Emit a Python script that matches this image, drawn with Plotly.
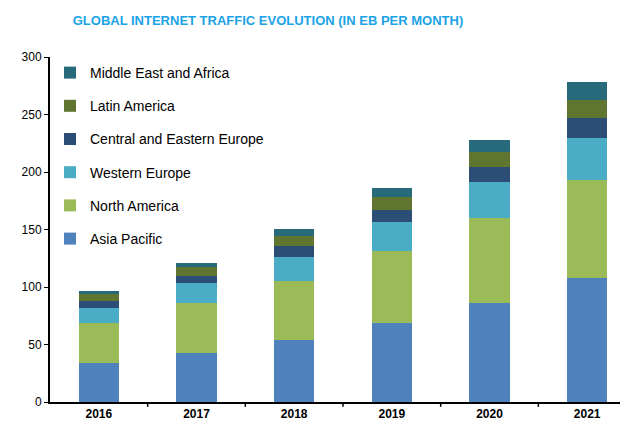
import plotly.graph_objects as go

# dados (EB por mês)
anos = ["2016", "2017", "2018", "2019", "2020", "2021"]
asia_pacific = [34.0, 42.7, 53.8, 68.9, 86.3, 107.6]
north_america = [34.3, 43.1, 51.7, 62.7, 73.6, 85.7]
western_europe = [13.1, 17.9, 20.9, 25.1, 31.4, 36.3]
central_eastern_europe = [6.6, 5.9, 9.3, 10.4, 13.1, 17.7]
latin_america = [5.6, 8.1, 8.8, 11.6, 13.3, 15.7]
middle_east_africa = [3.2, 3.5, 6.1, 7.0, 9.9, 15.0]

series = [
    ("Asia Pacific", asia_pacific, "#4F81BD"),
    ("North America", north_america, "#9BBB59"),
    ("Western Europe", western_europe, "#4BACC6"),
    ("Central and Eastern Europe", central_eastern_europe, "#2C4D75"),
    ("Latin America", latin_america, "#5F7530"),
    ("Middle East and Africa", middle_east_africa, "#276A7C"),
]

fig = go.Figure()
for i, (nome, valores, cor) in enumerate(series):
    fig.add_trace(go.Bar(x=anos, y=valores, name=nome, legendgroup=nome,
                         legendrank=len(series) - i,
                         marker=dict(color=cor, line=dict(width=0)),
                         width=0.41))

fig.update_layout(
    width=628, height=429,
    barmode="stack",
    plot_bgcolor="white", paper_bgcolor="white",
    margin=dict(l=42, r=0, t=49, b=35),
    font=dict(family="Liberation Sans, Arial", size=12, color="black"),
    title=dict(text="<b>GLOBAL INTERNET TRAFFIC EVOLUTION (IN EB PER MONTH)</b>",
               x=260 / 628, xanchor="center", y=1 - 12 / 429, yanchor="middle",
               font=dict(size=13, color="#1AA3E6")),
    legend=dict(x=0.0, y=1.0, xanchor="left", yanchor="top",
                traceorder="grouped", tracegroupgap=12,
                font=dict(size=14), bgcolor="rgba(0,0,0,0)"),
    showlegend=True,
)
fig.update_xaxes(range=[-0.5, 5.5], showline=True, linecolor="black", linewidth=2,
                 ticks="", tickfont=dict(size=12),
                 tickprefix="<b>", ticksuffix="</b>", showgrid=False)
fig.update_yaxes(range=[0, 300], dtick=50, showline=True, linecolor="black", linewidth=2,
                 ticks="outside", ticklen=4, tickwidth=1, tickcolor="black",
                 showgrid=False, zeroline=False, tickfont=dict(size=12))

# marcas entre as categorias no eixo x
for i in range(len(anos)):
    fig.add_shape(type="line", xref="x", yref="paper", x0=i + 0.5, x1=i + 0.5,
                  y0=0, y1=-0.014, line=dict(color="black", width=1.5))

fig.write_html("out.html")
